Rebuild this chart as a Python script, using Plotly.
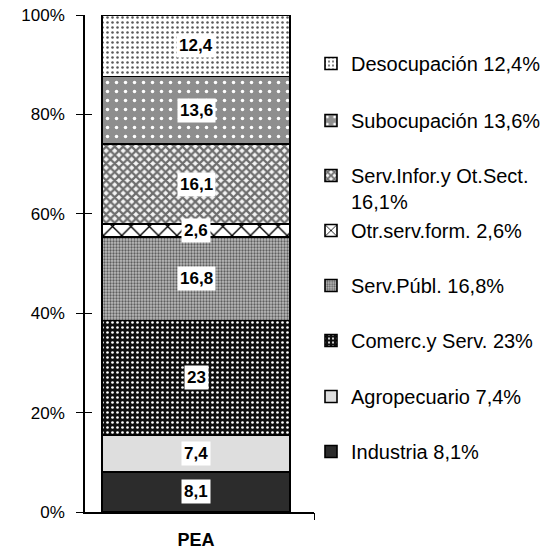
import plotly.graph_objects as go

# --- data -------------------------------------------------------------
categories = ["Industria", "Agropecuario", "Comerc.y Serv.", "Serv.Públ.",
              "Otr.serv.form.", "Serv.Infor.y Ot.Sect.", "Subocupación", "Desocupación"]
values = [8.1, 7.4, 23, 16.8, 2.6, 16.1, 13.6, 12.4]
group = "PEA"
y_ticks = [0, 20, 40, 60, 80, 100]

# legend entries that wrap the value onto a second line
wrapped = {"Serv.Infor.y Ot.Sect."}

# --- styling ----------------------------------------------------------
FONT = "Liberation Sans, Arial, sans-serif"
X_RANGE = [-0.485, 0.515]   # bar sits slightly left of the axis centre

fills = [
    dict(bg="#2c2c2c", fg="#2c2c2c", shape="", size=8, solidity=0.3),
    dict(bg="#dedede", fg="#dedede", shape="", size=8, solidity=0.3),
    dict(bg="#0e0e0e", fg="#ffffff", shape=".", size=5, solidity=0.22),
    dict(bg="#bdbdbd", fg="#5e5e5e", shape=".", size=3, solidity=0.45),
    dict(bg="#ffffff", fg="#000000", shape="x", size=13, solidity=0.2),
    dict(bg="#f4f4f4", fg="#6e6e6e", shape="x", size=6, solidity=0.6),
    dict(bg="#8e8e8e", fg="#ffffff", shape=".", size=9, solidity=0.12),
    dict(bg="#ffffff", fg="#5a5a5a", shape=".", size=5, solidity=0.2),
]

# first-line centre of each legend entry (px from top), bottom to top order
legend_y_px = [453, 398, 342, 287, 232, 177, 122, 65]
W, H = 548, 551


def fmt(v):
    s = f"{v:.1f}".replace(".", ",")
    return s[:-2] if s.endswith(",0") else s


fig = go.Figure()
layout_legends = {}
for i, (name, v) in enumerate(zip(categories, values)):
    f = fills[i]
    sep = "<br>" if name in wrapped else " "
    lname = "legend" if i == 0 else f"legend{i + 1}"
    fig.add_trace(go.Bar(
        x=[group], y=[v], name=f"{name}{sep}{fmt(v)}%",
        width=0.82,
        marker=dict(
            color=f["bg"],
            line=dict(color="black", width=1.6),
            pattern=dict(shape=f["shape"], fgcolor=f["fg"], bgcolor=f["bg"],
                         size=f["size"], solidity=f["solidity"], fillmode="replace"),
        ),
        legend=lname,
        hoverinfo="skip",
    ))
    layout_legends[lname] = dict(
        xref="container", yref="container",
        x=311 / W, y=1 - (legend_y_px[i] - 21) / H,
        xanchor="left", yanchor="top", valign="top",
        bgcolor="rgba(0,0,0,0)", borderwidth=0,
        itemwidth=30,
        font=dict(family=FONT, size=20, color="black"),
    )

# empty helper traces so the overlaid tick-only axes are drawn
for xa, ya in (("x2", "y2"), ("x3", "y2")):
    fig.add_trace(go.Scatter(x=[None], y=[None], xaxis=xa, yaxis=ya,
                             showlegend=False, hoverinfo="skip"))

# value labels in white boxes at the middle of each segment
base = 0.0
for v in values:
    fig.add_annotation(
        x=group, y=base + v / 2, text=f"<b>{fmt(v)}</b>",
        showarrow=False, bgcolor="white", borderpad=2,
        font=dict(family=FONT, size=17, color="black"),
    )
    base += v

end_tick = dict(range=X_RANGE, tickvals=[X_RANGE[1]], ticklen=7, tickcolor="black",
                showticklabels=False, showline=False, showgrid=False, zeroline=False)

fig.update_layout(
    barmode="stack",
    width=W, height=H,
    margin=dict(l=85, r=234, t=15, b=39, autoexpand=False),
    plot_bgcolor="white", paper_bgcolor="white",
    font=dict(family=FONT, color="black"),
    showlegend=True,
    xaxis=dict(
        type="category", range=X_RANGE, ticks="", ticklen=7,
        tickvals=[group], ticktext=[f"<b>{group}</b>"], ticklabelstandoff=11,
        tickfont=dict(family=FONT, size=18, color="black"),
        showline=True, linecolor="black", linewidth=1.5,
        showgrid=False, zeroline=False,
    ),
    xaxis2=dict(overlaying="x", anchor="y", ticks="outside", **end_tick),
    xaxis3=dict(overlaying="x", anchor="y", ticks="inside", **end_tick),
    yaxis=dict(
        range=[0, 100], tickvals=y_ticks, ticktext=[f"{t}%" for t in y_ticks],
        ticks="outside", ticklen=7, tickcolor="black", ticklabelstandoff=8,
        tickfont=dict(family=FONT, size=17, color="black"),
        showline=True, linecolor="black", linewidth=1.5,
        showgrid=False, zeroline=False,
    ),
    yaxis2=dict(
        overlaying="y", anchor="x", side="left", range=[0, 100],
        tickvals=y_ticks, ticks="inside", ticklen=7, tickcolor="black",
        showticklabels=False, showline=False, showgrid=False, zeroline=False,
    ),
    **layout_legends,
)

fig.write_html("out.html")
